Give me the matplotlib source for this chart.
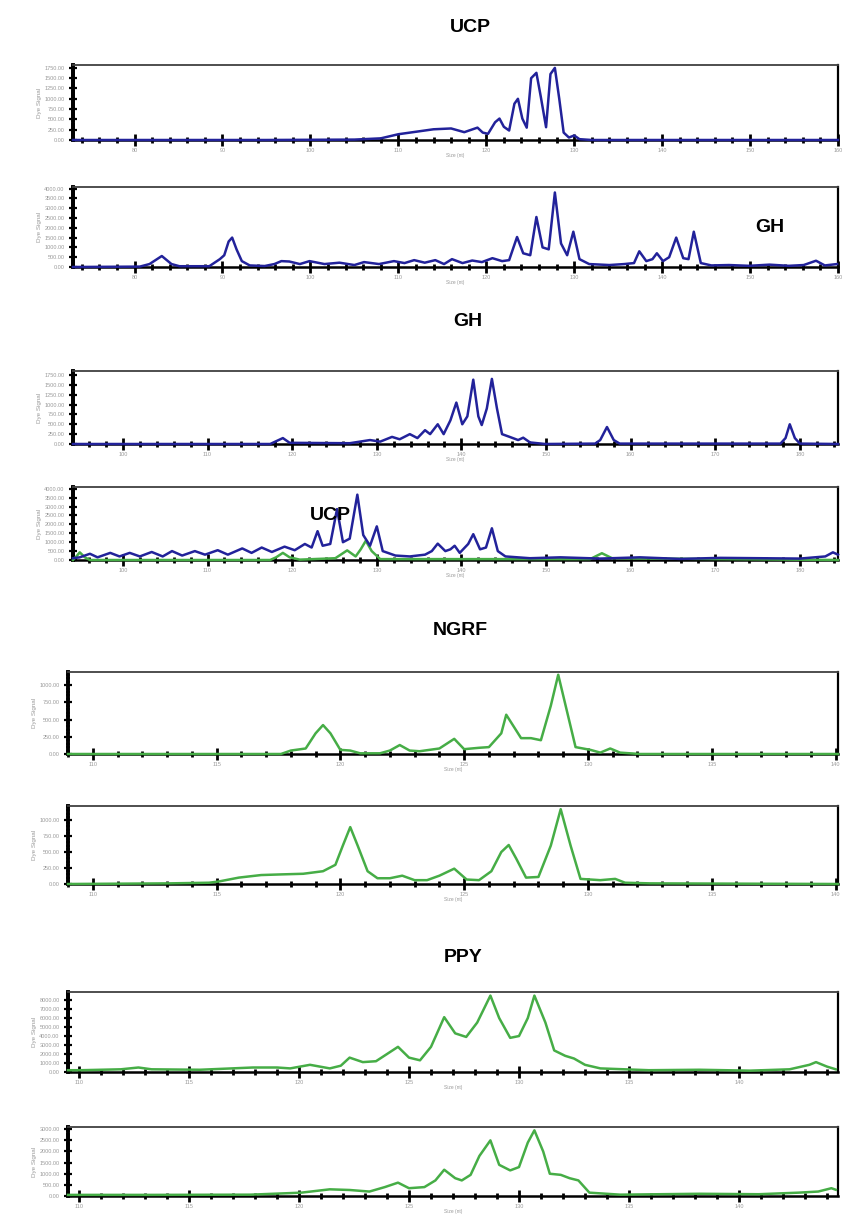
"""Capillary electrophoresis traces (UCP, GH, NGRF, PPY), two runs each, stacked."""
import matplotlib
matplotlib.use("Agg")
import matplotlib.pyplot as plt
from matplotlib.ticker import MultipleLocator, FormatStrFormatter

plt.rcParams["font.family"] = ["Liberation Sans", "DejaVu Sans"]

BLUE = "#22229a"
GREEN = "#46ad46"

# --- UCP, run 1 (size in nt, dye signal) ---
ucp1_size = [73, 95, 105, 108, 110, 112, 114, 116, 117.5, 119, 119.6, 120.2, 121, 121.5,
             122, 122.6, 123.2, 123.6, 124.1, 124.6, 125.1, 125.7, 126.2, 126.8, 127.3,
             127.8, 128.3, 128.8, 129.4, 130, 130.6, 132, 160]
ucp1_sig = [0, 0, 10, 40, 140, 200, 260, 280, 190, 300, 180, 150, 430, 520,
            320, 230, 880, 1000, 520, 300, 1500, 1630, 1050, 310, 1600,
            1750, 1000, 180, 60, 110, 20, 0, 0]

# --- UCP, run 2 ---
ucp2_size = [73, 80.6, 81.7, 83.1, 84.2, 85.1, 88.5, 89.7, 90.2, 90.7, 91.1, 91.6, 92.2,
             93.1, 94.8, 95.9, 96.7, 97.6, 98.8, 99.9, 101.6, 103.3, 105, 106.1, 107.8,
             109.5, 110.7, 111.8, 113, 114.2, 115.2, 116.1, 117.3, 118.4, 119.5, 120.7,
             121.8, 122.6, 123.5, 124.2, 125, 125.7, 126.4, 127.1, 127.8, 128.5, 129.2,
             129.9, 130.6, 131.7, 134, 135.7, 136.8, 137.4, 138.2, 138.9, 139.4, 140.1,
             140.8, 141.6, 142.4, 143, 143.6, 144.4, 145.6, 147.6, 149.9, 152.2, 154.4,
             156.1, 157.5, 158.5, 159.9]
ucp2_sig = [0, 20, 150, 560, 150, 40, 40, 400, 600, 1300, 1500, 900, 300,
            80, 50, 150, 300, 280, 150, 300, 150, 220, 100, 250, 150,
            300, 200, 350, 220, 350, 150, 400, 200, 330, 250, 450,
            300, 350, 1530, 700, 600, 2550, 1000, 900, 3800, 1200, 600,
            1800, 400, 150, 100, 150, 200, 800, 300, 400, 700, 300,
            500, 1500, 450, 400, 1800, 200, 80, 100, 60, 120, 60,
            100, 320, 80, 150]

# --- GH, run 1 ---
gh1_size = [94.1, 117.4, 118.9, 119.7, 126.8, 129.2, 130.4, 131.8, 132.7, 133.9, 134.8,
            135.7, 136.3, 137.2, 137.9, 138.7, 139.4, 140.1, 140.7, 141.4, 142, 142.4,
            143, 143.6, 144.2, 144.8, 145.7, 146.7, 147.3, 148.1, 149.9, 155.8, 156.4,
            157.2, 158, 158.7, 177.7, 178.3, 178.8, 179.4, 180, 184.5]
gh1_sig = [0, 0, 150, 30, 20, 100, 60, 180, 120, 250, 150,
           350, 250, 500, 250, 600, 1050, 500, 700, 1630, 700, 480,
           900, 1650, 900, 250, 180, 100, 160, 40, 0, 10, 100,
           430, 100, 10, 10, 150, 500, 150, 10, 0]

# --- GH, run 2 (blue) with co-run UCP channel (green) ---
gh2_size = [94.1, 94.9, 96.1, 97, 98.5, 99.6, 100.8, 102, 103.4, 104.7, 105.8, 107, 108.5,
            109.7, 111.2, 112.4, 114.1, 115.2, 116.4, 117.6, 119.1, 120.3, 121.5, 122.3,
            123, 123.6, 124.5, 125.3, 126, 126.8, 127.7, 128.4, 129.2, 130, 130.7, 132.2,
            133.9, 135.7, 136.5, 137.2, 138.1, 138.7, 139.2, 139.8, 140.8, 141.4, 142.2,
            142.9, 143.6, 144.3, 145.2, 148.1, 151.7, 156.4, 161.1, 165.9, 170.6, 175.3,
            180, 183, 183.9, 184.5]
gh2_sig = [100, 150, 350, 150, 400, 200, 400, 200, 450, 200, 500, 250, 500,
           300, 550, 300, 650, 400, 700, 450, 750, 550, 900, 700,
           1620, 800, 900, 2860, 1000, 1200, 3670, 1400, 800, 1890, 500, 250,
           200, 300, 500, 920, 500, 600, 800, 400, 900, 1450, 600,
           700, 1780, 500, 200, 100, 150, 80, 150, 60, 120, 100,
           80, 200, 430, 300]
gh2_green_size = [94.1, 94.5, 94.9, 95.5, 96.1, 117.4, 118.1, 118.9, 119.7, 120.9, 125.1,
                  126.5, 127.5, 128.1, 128.7, 129.4, 130.4, 155.2, 156.6, 157.8, 184.5]
gh2_green_sig = [0, 200, 430, 150, 0, 0, 150, 400, 150, 20, 100,
                 540, 200, 600, 1080, 500, 50, 50, 380, 100, 0]

# --- NGRF, run 1 ---
ngrf1_size = [109, 117.6, 118, 118.6, 119, 119.3, 119.6, 120, 120.4, 120.8, 121.6, 122,
              122.4, 122.8, 123.2, 124, 124.6, 125, 125.6, 126, 126.5, 126.7, 127, 127.3,
              127.7, 128.1, 128.5, 128.8, 129.1, 129.5, 130.1, 130.5, 130.9, 131.3, 132.1,
              140.1]
ngrf1_sig = [0, 0, 50, 80, 300, 420, 300, 60, 50, 10, 10, 50,
             130, 50, 40, 80, 220, 70, 90, 100, 300, 570, 400, 230,
             230, 200, 700, 1150, 700, 100, 60, 20, 80, 20, 0,
             0]

# --- NGRF, run 2 ---
ngrf2_size = [109, 113.1, 114.7, 115.1, 115.9, 116.8, 117.6, 118.5, 119.3, 119.8, 120.1,
              120.4, 120.7, 121.1, 121.5, 122, 122.5, 123, 123.5, 124, 124.6, 125.1, 125.6,
              126.1, 126.5, 126.8, 127.1, 127.5, 128, 128.5, 128.9, 129.3, 129.7, 130.5,
              131.1, 131.5, 132.5, 140.1]
ngrf2_sig = [0, 10, 20, 40, 100, 140, 150, 160, 200, 300, 600,
             890, 600, 200, 90, 90, 130, 60, 60, 130, 240, 70, 60,
             200, 500, 610, 400, 100, 110, 600, 1170, 600, 80, 60,
             80, 20, 10, 0]

# --- PPY, run 1 ---
ppy1_size = [109.5, 110.1, 111.9, 112.7, 113.3, 115.5, 117.9, 119, 119.6, 120.5, 121.4,
             121.9, 122.3, 122.9, 123.5, 124, 124.5, 125, 125.5, 126, 126.6, 127.1, 127.6,
             128.1, 128.7, 129.1, 129.6, 130, 130.4, 130.7, 131.2, 131.6, 132.1, 132.5,
             133, 133.7, 135.9, 138.2, 140.5, 142.3, 143.2, 143.5, 144, 144.4]
ppy1_sig = [200, 200, 300, 500, 300, 250, 500, 500, 400, 800, 400,
            700, 1600, 1100, 1200, 2000, 2800, 1600, 1300, 2800, 6100, 4300, 3900,
            5500, 8500, 6000, 3800, 4000, 6000, 8500, 5500, 2400, 1800, 1500,
            800, 400, 200, 250, 150, 300, 800, 1100, 600, 300]

# --- PPY, run 2 ---
ppy2_size = [109.5, 113.3, 117.8, 120.1, 121.4, 122.3, 123.2, 123.9, 124.5, 125, 125.7,
             126.2, 126.6, 127.1, 127.4, 127.8, 128.2, 128.7, 129.1, 129.6, 130, 130.4,
             130.7, 131.1, 131.4, 131.9, 132.3, 132.7, 133.2, 134.6, 138.2, 140.9, 142.7,
             143.6, 144.2, 144.4]
ppy2_sig = [50, 50, 60, 150, 300, 270, 200, 400, 600, 350, 400,
            700, 1180, 800, 700, 950, 1800, 2500, 1400, 1150, 1300, 2400,
            2950, 2000, 1000, 950, 800, 700, 150, 60, 100, 80, 150,
            200, 350, 280]

# panel boxes in figure pixels: (left, top, right, bottom)
FIG_W, FIG_H = 846, 1224


def box(l, t, r, b):
    return [l / FIG_W, 1 - b / FIG_H, (r - l) / FIG_W, (b - t) / FIG_H]


def style(ax, xlim, xmaj, xmin, ylim, ymaj):
    ax.set_xlim(*xlim)
    ax.set_ylim(*ylim)
    ax.xaxis.set_major_locator(MultipleLocator(xmaj))
    ax.xaxis.set_minor_locator(MultipleLocator(xmin))
    ax.yaxis.set_major_locator(MultipleLocator(ymaj))
    ax.yaxis.set_minor_locator(MultipleLocator(ymaj / 5))
    ax.yaxis.set_major_formatter(FormatStrFormatter("%.2f"))
    ax.xaxis.set_major_formatter(FormatStrFormatter("%d"))
    ax.tick_params(axis="x", which="major", direction="inout", length=8, width=2,
                   labelsize=4, labelcolor="#9a9a9a", pad=2)
    ax.tick_params(axis="x", which="minor", direction="inout", length=5, width=2)
    ax.tick_params(axis="y", which="major", direction="inout", length=6, width=1.6,
                   labelsize=4, labelcolor="#9a9a9a", pad=3)
    ax.tick_params(axis="y", which="minor", direction="inout", length=3, width=1.2)
    ax.spines["left"].set_linewidth(2.8)
    ax.spines["bottom"].set_linewidth(1.8)
    ax.spines["top"].set_linewidth(1.3)
    ax.spines["top"].set_color("#404040")
    ax.spines["right"].set_linewidth(1.6)
    ax.set_ylabel("Dye Signal", fontsize=4.5, color="#9a9a9a", labelpad=2)
    ax.set_xlabel("Size (nt)", fontsize=3.5, color="#9a9a9a", labelpad=0)


fig = plt.figure(figsize=(FIG_W / 100, FIG_H / 100), dpi=100)

ucp_x = dict(xlim=(73, 160), xmaj=10, xmin=2)
gh_x = dict(xlim=(94.1, 184.5), xmaj=10, xmin=2)
ngrf_x = dict(xlim=(109, 140.1), xmaj=5, xmin=1)
ppy_x = dict(xlim=(109.5, 144.5), xmaj=5, xmin=1)

panels = [
    (box(73, 65, 838, 140), ucp_x, (0, 1820), 250, [(ucp1_size, ucp1_sig, BLUE)]),
    (box(73, 187, 838, 267), ucp_x, (0, 4080), 500, [(ucp2_size, ucp2_sig, BLUE)]),
    (box(73, 371, 838, 444), gh_x, (0, 1850), 250, [(gh1_size, gh1_sig, BLUE)]),
    (box(73, 487, 838, 560), gh_x, (0, 4100), 500,
     [(gh2_green_size, gh2_green_sig, GREEN), (gh2_size, gh2_sig, BLUE)]),
    (box(68, 672, 838, 754), ngrf_x, (0, 1190), 250, [(ngrf1_size, ngrf1_sig, GREEN)]),
    (box(68, 806, 838, 884), ngrf_x, (0, 1220), 250, [(ngrf2_size, ngrf2_sig, GREEN)]),
    (box(68, 992, 838, 1072), ppy_x, (0, 8900), 1000, [(ppy1_size, ppy1_sig, GREEN)]),
    (box(68, 1127, 838, 1196), ppy_x, (0, 3100), 500, [(ppy2_size, ppy2_sig, GREEN)]),
]

axes = []
for rect, xs, ylim, ymaj, traces in panels:
    ax = fig.add_axes(rect)
    for sx, sy, col in traces:
        ax.plot(sx, sy, color=col, lw=1.8, solid_joinstyle="round",
                clip_on=False, zorder=3)
    style(ax, xs["xlim"], xs["xmaj"], xs["xmin"], ylim, ymaj)
    axes.append(ax)

title_kw = dict(fontsize=14, fontweight="bold", ha="center", va="center")
fig.text(470 / FIG_W, 1 - 28 / FIG_H, "UCP", **title_kw)
fig.text(468 / FIG_W, 1 - 321 / FIG_H, "GH", **title_kw)
fig.text(460 / FIG_W, 1 - 631 / FIG_H, "NGRF", **title_kw)
fig.text(463 / FIG_W, 1 - 958 / FIG_H, "PPY", **title_kw)
# labels written inside the second-run panels
fig.text(770 / FIG_W, 1 - 228 / FIG_H, "GH", **title_kw)
fig.text(330 / FIG_W, 1 - 515 / FIG_H, "UCP", **title_kw)

fig.savefig("out.png", dpi=100)
